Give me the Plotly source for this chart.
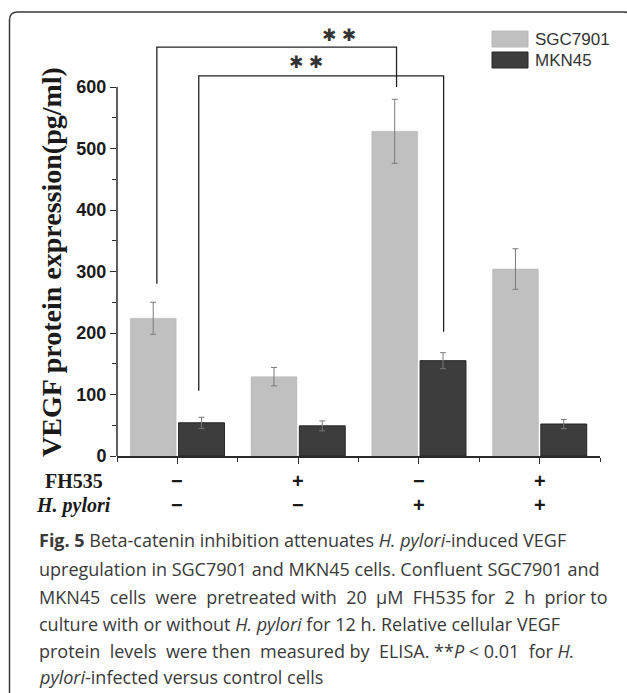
import plotly.graph_objects as go

# ---------------- data ----------------
groups = [0, 1, 2, 3]
fh535_row = ["−", "+", "−", "+"]
hpylori_row = ["−", "−", "+", "+"]
sgc7901 = [224, 129, 528, 304]
sgc7901_err = [26, 15, 52, 33]
mkn45 = [54, 49, 155, 52]
mkn45_err = [9, 8, 13, 7.5]
y_ticks = [0, 100, 200, 300, 400, 500, 600]
y_minor = [50, 150, 250, 350, 450, 550]
# significance brackets: (x_left, y_left_end, x_right, y_right_end, y_top, x_star, y_star)
brackets = [
    (-0.17, 280, 1.815, 600, 665, 1.341, 684),
    (0.177, 106, 2.205, 202, 618, 1.067, 641),
]
N = "\u00a0"
caption_lines = [
    "<b>Fig. 5</b> Beta-catenin inhibition attenuates <i>H. pylori</i>-induced VEGF",
    "upregulation in SGC7901 and MKN45 cells. Confluent SGC7901 and",
    f"MKN45 {N}cells {N}were {N}pretreated with {N}20 {N}µM {N}FH535 for {N}2 {N}h {N}prior to",
    "culture with or without <i>H. pylori</i> for 12 h. Relative cellular VEGF",
    f"protein {N}levels {N}were then {N}measured by {N}ELISA. **<i>P</i> < 0.01 {N}for <i>H.</i>",
    "<i>pylori</i>-infected versus control cells",
]

W, H = 627, 693
L_M, R_M, T_M, B_M = 117, 27, 12, 237
PW, PH = W - L_M - R_M, H - T_M - B_M
YMAX = 722


def px(xp):
    return (xp - L_M) / PW


def py(yp):
    return (H - B_M - yp) / PH


SGC_COL = "#c0c0c0"
MKN_COL = "#3d3d3d"
AX_COL = "#2b2b2b"

fig = go.Figure()
fig.add_trace(go.Bar(
    x=groups, y=sgc7901, name="SGC7901",
    marker=dict(color=SGC_COL, line=dict(color="#b8b8b8", width=0.5)),
    error_y=dict(type="data", array=sgc7901_err, color="#7a7a7a", thickness=1, width=3),
))
fig.add_trace(go.Bar(
    x=groups, y=mkn45, name="MKN45",
    marker=dict(color=MKN_COL, line=dict(color="#262626", width=1)),
    error_y=dict(type="data", array=mkn45_err, color="#7a7a7a", thickness=1, width=3),
))

shapes = []
annotations = []

# y axis line (only 0..600)
shapes.append(dict(type="line", xref="paper", yref="y", x0=0, x1=0, y0=0, y1=y_ticks[-1],
                   line=dict(color=AX_COL, width=1.5)))

# brackets
for (xl, yl, xr, yr, yt, xs, ys) in brackets:
    shapes.append(dict(type="path", xref="x", yref="y",
                       path=f"M {xl},{yl} L {xl},{yt} L {xr},{yt} L {xr},{yr}",
                       line=dict(color="#222222", width=1.3)))
    annotations.append(dict(x=xs, y=ys, xref="x", yref="y", text="✱ ✱", showarrow=False,
                            font=dict(family="DejaVu Sans", size=17, color="#333333"),
                            xanchor="center", yanchor="middle"))

# legend
leg = [("SGC7901", SGC_COL, "#b8b8b8", 31, 47), ("MKN45", MKN_COL, "#262626", 52, 68)]
for name, col, lcol, y0, y1 in leg:
    shapes.append(dict(type="rect", xref="paper", yref="paper",
                       x0=px(492), x1=px(528), y0=py(y1), y1=py(y0),
                       fillcolor=col, line=dict(color=lcol, width=1)))
    annotations.append(dict(x=px(533), y=py((y0 + y1) / 2), xref="paper", yref="paper",
                            text=name, showarrow=False, xanchor="left", yanchor="middle",
                            font=dict(family="Liberation Sans, Arial", size=17, color="#333333")))

# outer rounded frame
Lf, Tf, Rf, Bf = px(9.5), py(12), px(632), py(720)
rx, ry = 8 / PW, 8 / PH
shapes.append(dict(type="path", xref="paper", yref="paper",
                   path=(f"M {Lf},{Bf} L {Lf},{Tf - ry} Q {Lf},{Tf} {Lf + rx},{Tf} "
                         f"L {Rf - rx},{Tf} Q {Rf},{Tf} {Rf},{Tf - ry} L {Rf},{Bf}"),
                   line=dict(color="#3a3a3a", width=1.5)))

# y-axis title
annotations.append(dict(x=px(51), y=py(262), xref="paper", yref="paper",
                        text="<b>VEGF protein expression(pg/ml)</b>", textangle=-90,
                        showarrow=False, xanchor="center", yanchor="middle",
                        font=dict(family="Liberation Serif, Times New Roman", size=28, color="#1a1a1a")))

# row labels
annotations.append(dict(x=px(73.5), y=py(481), xref="paper", yref="paper", text="<b>FH535</b>",
                        showarrow=False, xanchor="center", yanchor="middle",
                        font=dict(family="Liberation Serif, Times New Roman", size=20, color="#1a1a1a")))
annotations.append(dict(x=px(73), y=py(505), xref="paper", yref="paper", text="<b><i>H. pylori</i></b>",
                        showarrow=False, xanchor="center", yanchor="middle",
                        font=dict(family="Liberation Serif, Times New Roman", size=20, color="#1a1a1a")))
for g, a, b in zip(groups, fh535_row, hpylori_row):
    for txt, yy in ((a, 481), (b, 505)):
        annotations.append(dict(x=g, y=py(yy), xref="x", yref="paper", text=f"<b>{txt}</b>",
                                showarrow=False, xanchor="center", yanchor="middle",
                                font=dict(family="Liberation Sans, Arial", size=20, color="#1a1a1a")))

# caption
cap_y = [540, 569, 597, 624, 651, 677]
for line, yy in zip(caption_lines, cap_y):
    annotations.append(dict(x=px(37), y=py(yy), xref="paper", yref="paper", text=line,
                            showarrow=False, xanchor="left", yanchor="middle",
                            font=dict(family="Open Sans", size=18, color="#3a3a3a")))

fig.update_layout(
    width=W, height=H,
    margin=dict(l=L_M, r=R_M, t=T_M, b=B_M, pad=0),
    paper_bgcolor="white", plot_bgcolor="white",
    showlegend=False,
    barmode="group", bargap=0.2, bargroupgap=0.05,
    shapes=shapes, annotations=annotations,
    xaxis=dict(range=[-0.5, 3.5], tickvals=groups, ticktext=["", "", "", ""],
               showgrid=False, zeroline=False, showline=True, linecolor=AX_COL, linewidth=1.5,
               ticks="outside", ticklen=6, tickwidth=1.3, tickcolor=AX_COL,
               minor=dict(tickvals=[-0.5, 0.5, 1.5, 2.5, 3.5], ticks="outside", ticklen=4,
                          tickwidth=1.2, tickcolor=AX_COL)),
    yaxis=dict(range=[0, YMAX], tickvals=y_ticks, ticktext=[str(v) for v in y_ticks],
               showgrid=False, zeroline=False, showline=False,
               ticks="outside", ticklen=6, tickwidth=1.3, tickcolor=AX_COL,
               tickfont=dict(family="Liberation Sans, Arial", size=18, color="#1a1a1a", weight="bold"),
               minor=dict(tickvals=y_minor, ticks="outside", ticklen=4, tickwidth=1.2,
                          tickcolor=AX_COL)),
)

fig.write_html("out.html", config={"displayModeBar": False},
               post_script="document.body.style.margin='0';document.body.style.overflow='hidden';")
